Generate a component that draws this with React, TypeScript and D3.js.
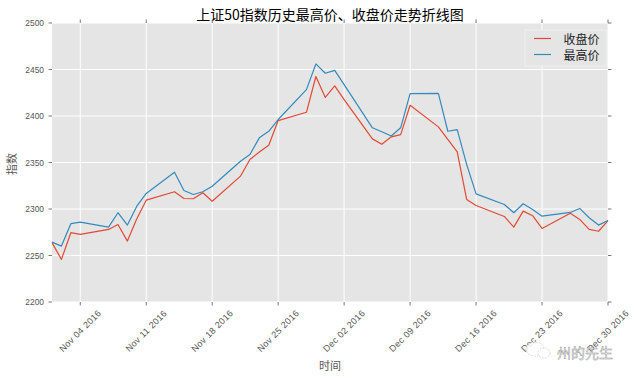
import React from "react";
import * as d3 from "d3";

const dates = [
  "2016-11-01","2016-11-02","2016-11-03","2016-11-04","2016-11-07","2016-11-08","2016-11-09","2016-11-10","2016-11-11",
  "2016-11-14","2016-11-15","2016-11-16","2016-11-17","2016-11-18","2016-11-21","2016-11-22","2016-11-23","2016-11-24","2016-11-25",
  "2016-11-28","2016-11-29","2016-11-30","2016-12-01","2016-12-02","2016-12-05","2016-12-06","2016-12-07","2016-12-08","2016-12-09",
  "2016-12-12","2016-12-13","2016-12-14","2016-12-15","2016-12-16","2016-12-19","2016-12-20","2016-12-21","2016-12-22","2016-12-23",
  "2016-12-26","2016-12-27","2016-12-28","2016-12-29","2016-12-30",
];

const closePrice = [
  2263.8, 2245.8, 2274.5, 2272.7, 2278.0, 2283.4, 2265.5, 2289.5, 2309.5,
  2318.5, 2311.3, 2311.0, 2317.5, 2308.4, 2335.3, 2353.2, 2361.3, 2368.6, 2395.1,
  2404.0, 2442.5, 2420.0, 2432.3, 2417.6, 2375.4, 2369.6, 2377.6, 2380.0, 2411.5,
  2388.3, 2374.9, 2361.5, 2310.3, 2303.8, 2292.0, 2280.5, 2297.7, 2292.8, 2279.1,
  2295.5, 2288.8, 2278.0, 2276.1, 2287.4,
];

const highPrice = [
  2264.4, 2260.1, 2284.2, 2285.9, 2280.5, 2296.0, 2282.7, 2303.0, 2316.7,
  2339.6, 2319.9, 2315.6, 2318.5, 2324.5, 2351.4, 2358.6, 2376.5, 2383.6, 2396.2,
  2428.4, 2456.0, 2446.0, 2449.0, 2433.7, 2387.3, 2383.0, 2378.5, 2387.3, 2424.1,
  2424.3, 2383.6, 2385.4, 2348.0, 2316.2, 2304.9, 2296.0, 2305.6, 2299.5, 2292.3,
  2296.3, 2300.6, 2290.6, 2282.7, 2287.7,
];

const xTickDates = [
  "2016-11-04","2016-11-11","2016-11-18","2016-11-25","2016-12-02",
  "2016-12-09","2016-12-16","2016-12-23","2016-12-30",
];
const yTicks = [2200, 2250, 2300, 2350, 2400, 2450, 2500];

const title = "上证50指数历史最高价、收盘价走势折线图";
const seriesNames = ["收盘价", "最高价"];
const seriesColors = ["#E24A33", "#348ABD"];
const xLabel = "时间";
const yLabel = "指数";
const watermark = "州的先生";

const W = 638, H = 378;
const L = 52, R = 608, T = 23, B = 302;
const CJK = '"Noto Sans CJK SC", sans-serif';
const NUM = '"Liberation Sans", Arial, sans-serif';

export default function App() {
  const parse = d3.timeParse("%Y-%m-%d");
  const ds = dates.map((d) => parse(d) as Date);
  const x = d3.scaleTime().domain([parse("2016-11-01") as Date, parse("2016-12-30") as Date]).range([L, R]);
  const y = d3.scaleLinear().domain([2200, 2500]).range([B, T]);
  const fmt = d3.timeFormat("%b %d %Y");
  const line = d3.line<number>().x((_, i) => x(ds[i])).y((v) => y(v));
  const series = [closePrice, highPrice];
  const xt = xTickDates.map((d) => parse(d) as Date);

  return (
    <svg width={W} height={H} style={{ position: "absolute", left: 0, top: 0, background: "#fff" }}>
      <rect x={0} y={0} width={W} height={H} fill="#fff" />
      <rect x={L} y={T} width={R - L} height={B - T} fill="#E5E5E5" />
      {yTicks.map((t) => (
        <line key={"gy" + t} x1={L} x2={R} y1={y(t)} y2={y(t)} stroke="#fff" strokeWidth={1} />
      ))}
      {xt.map((d, i) => (
        <line key={"gx" + i} x1={x(d)} x2={x(d)} y1={T} y2={B} stroke="#fff" strokeWidth={1} />
      ))}
      {series.map((s, i) => (
        <path key={"s" + i} d={line(s) || ""} fill="none" stroke={seriesColors[i]} strokeWidth={1.2} strokeLinejoin="round" />
      ))}
      {yTicks.map((t) => (
        <g key={"ty" + t}>
          <line x1={L - 3.5} x2={L} y1={y(t)} y2={y(t)} stroke="#555" strokeWidth={0.8} />
          <line x1={R} x2={R + 3.5} y1={y(t)} y2={y(t)} stroke="#555" strokeWidth={0.8} />
          <text x={L - 8} y={y(t)} textAnchor="end" dominantBaseline="central" fontFamily={NUM} fontSize={8.4} fill="#555">
            {t}
          </text>
        </g>
      ))}
      {xt.map((d, i) => (
        <g key={"tx" + i}>
          <line x1={x(d)} x2={x(d)} y1={B} y2={B + 3.5} stroke="#555" strokeWidth={0.8} />
          <line x1={x(d)} x2={x(d)} y1={T - 3.5} y2={T} stroke="#555" strokeWidth={0.8} />
          <text
            transform={`translate(${x(d)},${331}) rotate(-45)`}
            textAnchor="middle"
            dominantBaseline="central"
            fontFamily={NUM}
            fontSize={9}
            letterSpacing={0.35}
            fill="#555"
          >
            {fmt(d)}
          </text>
        </g>
      ))}
      <text x={(L + R) / 2} y={19.5} textAnchor="middle" fontFamily={CJK} fontSize={14} fill="#000">
        {title}
      </text>
      <text x={(L + R) / 2} y={365} textAnchor="middle" dominantBaseline="central" fontFamily={CJK} fontSize={11} fill="#555">
        {xLabel}
      </text>
      <text transform={`translate(11,164) rotate(-90)`} textAnchor="middle" dominantBaseline="central" fontFamily={CJK} fontSize={11} fill="#555">
        {yLabel}
      </text>
      <rect x={525} y={30} width={81.7} height={36} fill="#E5E5E5" stroke="#F0F0F0" strokeWidth={1} />
      {seriesNames.map((n, i) => (
        <g key={"lg" + i}>
          <line x1={534} x2={551} y1={38.5 + i * 16} y2={38.5 + i * 16} stroke={seriesColors[i]} strokeWidth={1.2} />
          <text x={563.5} y={38.8 + i * 16} dominantBaseline="central" fontFamily={CJK} fontSize={12} fill="#222">
            {n}
          </text>
        </g>
      ))}
      <g opacity={0.85}>
        <ellipse cx={535} cy={349} rx={9} ry={7} fill="#fff" stroke="#aaa" strokeWidth={0.6} strokeDasharray="1.5 1.5" />
        <ellipse cx={544} cy={353} rx={6} ry={5} fill="#fff" stroke="#aaa" strokeWidth={0.6} strokeDasharray="1.5 1.5" />
        <text x={557} y={352} dominantBaseline="central" fontFamily={CJK} fontSize={14} fill="#fff" stroke="#888" strokeWidth={0.5}>
          {watermark}
        </text>
      </g>
    </svg>
  );
}
